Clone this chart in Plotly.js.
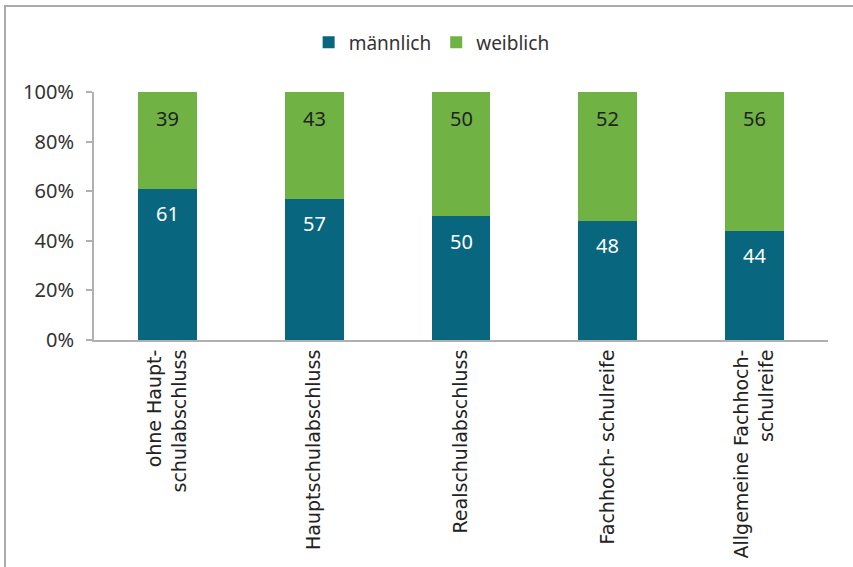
<!DOCTYPE html>
<html>
<head>
<meta charset="utf-8">
<script src="https://cdn.plot.ly/plotly-3.0.1.min.js"></script>
<style>
html,body{margin:0;padding:0;background:#fff;}
#wrap{position:relative;width:853px;height:567px;overflow:hidden;}
#chart{position:absolute;left:0;top:0;width:853px;height:567px;}
#frame{position:absolute;left:4px;top:5px;width:900px;height:700px;border-top:2px solid #ababab;border-left:2px solid #ababab;pointer-events:none;}
</style>
</head>
<body>
<div id="wrap"><div id="chart"></div><div id="frame"></div></div>
<script>
const categories = ["ohne Haupt-<br>schulabschluss", "Hauptschulabschluss", "Realschulabschluss", "Fachhoch- schulreife", "Allgemeine Fachhoch-<br>schulreife"];
const maennlich = [61, 57, 50, 48, 44];
const weiblich = [39, 43, 50, 52, 56];
const yTicks = [0, 20, 40, 60, 80, 100];
const yTickLabels = ["0%", "20%", "40%", "60%", "80%", "100%"];

const blue = "#08667f";
const green = "#70b244";
const font = "Noto Sans, Open Sans, sans-serif";

const traces = [
  {type:"bar", name:"männlich", x:categories, y:maennlich, marker:{color:blue}, width:0.4, hoverinfo:"none"},
  {type:"bar", name:"weiblich", x:categories, y:weiblich, marker:{color:green}, width:0.4, hoverinfo:"none"}
];

const annotations = [];
categories.forEach((c, i) => {
  annotations.push({x:c, y:maennlich[i], xref:"x", yref:"y", text:String(maennlich[i]), showarrow:false, yanchor:"middle", yshift:-25, font:{family:font, size:20, color:"#ffffff"}});
  annotations.push({x:c, y:maennlich[i] + weiblich[i], xref:"x", yref:"y", text:String(weiblich[i]), showarrow:false, yanchor:"middle", yshift:-26, font:{family:font, size:20, color:"#222222"}});
});

const layout = {
  width:853, height:567,
  margin:{l:94, r:25, t:92, b:227, pad:0},
  barmode:"stack",
  paper_bgcolor:"#fff", plot_bgcolor:"#fff",
  showlegend:true,
  legend:{orientation:"h", traceorder:"normal", x:0.46, xanchor:"center", y:1.2, yanchor:"middle", font:{family:font, size:19, color:"#333"}, itemwidth:30, tracegroupgap:0},
  xaxis:{type:"category", showline:true, linecolor:"#b0b0b0", linewidth:2, ticks:"", tickangle:-90, tickfont:{family:"DejaVu Sans, sans-serif", size:19, color:"#222"}, fixedrange:true, showgrid:false, zeroline:false},
  yaxis:{range:[0,100], showline:true, linecolor:"#b0b0b0", linewidth:2, ticks:"outside", ticklen:6, tickcolor:"#b0b0b0", tickwidth:2, tickvals:yTicks, ticktext:yTickLabels, tickfont:{family:font, size:20, color:"#333"}, ticklabelstandoff:8, showgrid:false, zeroline:false, fixedrange:true},
  annotations:annotations
};

Plotly.newPlot("chart", traces, layout, {displayModeBar:false, staticPlot:true});
</script>
</body>
</html>
